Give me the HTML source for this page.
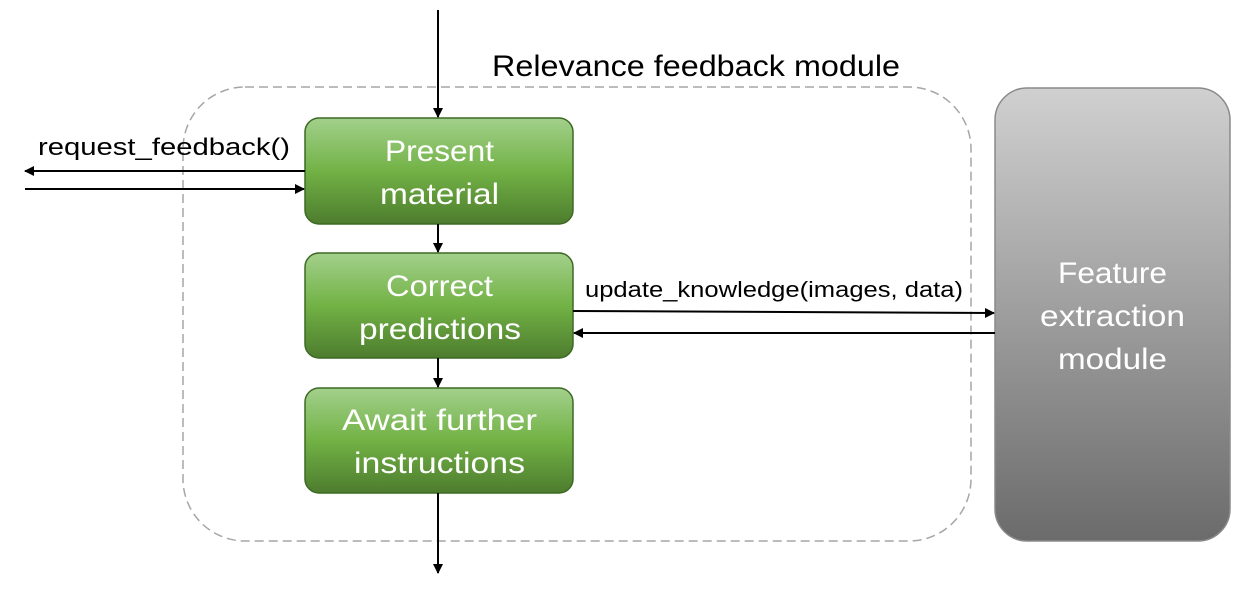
<!DOCTYPE html>
<html><head><style>
body{margin:0;width:1253px;height:593px;background:#fff;overflow:hidden}
</style></head><body>
<svg width="1253" height="593" xmlns="http://www.w3.org/2000/svg" font-family="Liberation Sans, sans-serif">
<defs>
<linearGradient id="g" x1="0" y1="0" x2="0" y2="1">
<stop offset="0" stop-color="#a3d08c"/><stop offset="0.5" stop-color="#72b245"/><stop offset="1" stop-color="#4d7c2e"/>
</linearGradient>
<linearGradient id="gr" x1="0" y1="0" x2="0" y2="1">
<stop offset="0" stop-color="#d0d0d0"/><stop offset="1" stop-color="#6b6b6b"/>
</linearGradient>
<marker id="a" markerWidth="10" markerHeight="10" refX="9" refY="5" orient="auto" markerUnits="userSpaceOnUse">
<path d="M0,0 L10,5 L0,10 z" fill="#000"/></marker>
</defs>
<rect x="183" y="87" width="788" height="454" rx="62" fill="none" stroke="#a6a6a6" stroke-width="1.5" stroke-dasharray="9,5"/>
<text x="492" y="76" font-size="30" textLength="408" lengthAdjust="spacingAndGlyphs" fill="#000">Relevance feedback module</text>
<rect x="995" y="88" width="235" height="453" rx="32" fill="url(#gr)" stroke="#8a8a8a" stroke-width="1.5"/>
<g font-size="30" fill="#fff" lengthAdjust="spacingAndGlyphs">
<text x="1058" y="283" textLength="109" lengthAdjust="spacingAndGlyphs">Feature</text>
<text x="1040" y="326" textLength="145" lengthAdjust="spacingAndGlyphs">extraction</text>
<text x="1058" y="369" textLength="109" lengthAdjust="spacingAndGlyphs">module</text>
</g>
<g stroke="#3c6a25" stroke-width="1.5" fill="url(#g)">
<rect x="305" y="118" width="268" height="106" rx="14"/>
<rect x="305" y="253" width="268" height="105" rx="14"/>
<rect x="305" y="388" width="268" height="105" rx="14"/>
</g>
<g font-size="30" fill="#fff">
<text x="385" y="161" textLength="109" lengthAdjust="spacingAndGlyphs">Present</text>
<text x="380" y="204" textLength="119" lengthAdjust="spacingAndGlyphs">material</text>
<text x="386" y="296" textLength="107" lengthAdjust="spacingAndGlyphs">Correct</text>
<text x="359" y="339" textLength="162" lengthAdjust="spacingAndGlyphs">predictions</text>
<text x="342" y="430" textLength="195" lengthAdjust="spacingAndGlyphs">Await further</text>
<text x="354" y="473" textLength="171" lengthAdjust="spacingAndGlyphs">instructions</text>
</g>
<g stroke="#000" stroke-width="2" marker-end="url(#a)">
<line x1="438" y1="10" x2="438" y2="117"/>
<line x1="438" y1="224" x2="438" y2="252"/>
<line x1="438" y1="358" x2="438" y2="387"/>
<line x1="438" y1="493" x2="438" y2="573"/>
<line x1="305" y1="171" x2="25" y2="171"/>
<line x1="25" y1="189" x2="304" y2="189"/>
<line x1="573" y1="311" x2="994" y2="313"/>
<line x1="995" y1="333" x2="574" y2="333"/>
</g>
<text x="38" y="155" font-size="24" textLength="252" lengthAdjust="spacingAndGlyphs" fill="#000">request_feedback()</text>
<text x="585" y="297" font-size="22" textLength="378" lengthAdjust="spacingAndGlyphs" fill="#000">update_knowledge(images, data)</text>
</svg>
</body></html>
